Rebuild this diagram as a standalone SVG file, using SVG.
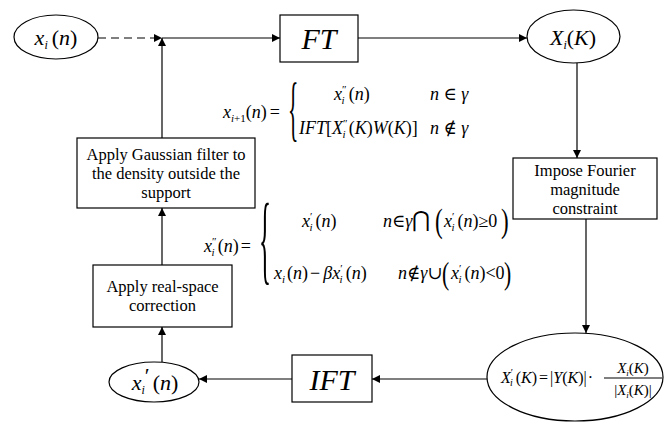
<svg xmlns="http://www.w3.org/2000/svg" width="665" height="423" viewBox="0 0 665 423">
<style>
text{font-family:'Liberation Serif','Times New Roman','DejaVu Serif',serif;fill:#000}
.i{font-style:italic}
.box{fill:#fff;stroke:#000;stroke-width:1.2}
.ln{fill:none;stroke:#000;stroke-width:1.2}
.lbl{font-size:16.5px;text-anchor:middle}
</style>
<defs>
<marker id="a" viewBox="0 0 10 10" refX="10" refY="5" markerWidth="9" markerHeight="8" orient="auto" markerUnits="userSpaceOnUse"><path d="M0,0 L10,5 L0,10 z" fill="#000"/></marker>
</defs>
<rect width="665" height="423" fill="#fff"/>
<g id="connectors">
<path class="ln" d="M98,38 H162" stroke-dasharray="8 5" marker-end="url(#a)"/>
<path class="ln" d="M162,138 V38" marker-end="url(#a)"/>
<path class="ln" d="M162,38 H280" marker-end="url(#a)"/>
<path class="ln" d="M358,38 H527" marker-end="url(#a)"/>
<path class="ln" d="M577,63 V158" marker-end="url(#a)"/>
<path class="ln" d="M586,219 V333" marker-end="url(#a)"/>
<path class="ln" d="M487,379 H372" marker-end="url(#a)"/>
<path class="ln" d="M292,379 H199" marker-end="url(#a)"/>
<path class="ln" d="M162,362 V327" marker-end="url(#a)"/>
<path class="ln" d="M162,265 V208" marker-end="url(#a)"/>
</g>
<g id="xin">
<ellipse class="box" cx="56" cy="37" rx="42" ry="22"/>
<text x="56" y="45" font-size="22" text-anchor="middle"><tspan class="i">x</tspan><tspan class="i" font-size="12" dy="4">i</tspan><tspan dy="-4" dx="4">(</tspan><tspan class="i">n</tspan>)</text>
</g>
<g id="ft">
<rect class="box" x="280" y="15" width="78" height="47"/>
<text class="i" x="319" y="49" font-size="30" text-anchor="middle">FT</text>
</g>
<g id="xik">
<ellipse class="box" cx="573.5" cy="36.5" rx="46.5" ry="26.5"/>
<text x="573" y="45" font-size="22" text-anchor="middle"><tspan class="i">X</tspan><tspan class="i" font-size="12" dy="4">i</tspan><tspan dy="-4">(</tspan><tspan class="i">K</tspan>)</text>
</g>
<g id="impose">
<rect class="box" x="513" y="158" width="144" height="61"/>
<text class="lbl" x="585" y="176">Impose Fourier</text>
<text class="lbl" x="585" y="195">magnitude</text>
<text class="lbl" x="585" y="214">constraint</text>
</g>
<g id="xpk">
<ellipse class="box" cx="575" cy="377" rx="88" ry="44"/>
<text x="501" y="383" font-size="16"><tspan class="i">X</tspan><tspan font-size="10" dy="-7">′</tspan><tspan class="i" font-size="10" dx="-3" dy="10">i</tspan><tspan dy="-3" dx="3">(</tspan><tspan class="i">K</tspan>)<tspan dx="2">=</tspan><tspan dx="2">|</tspan><tspan class="i">Y</tspan>(<tspan class="i">K</tspan>)|<tspan dx="1">·</tspan></text>
<text x="633" y="373" font-size="15" text-anchor="middle"><tspan class="i">X</tspan><tspan class="i" font-size="9" dy="3">i</tspan><tspan dy="-3">(</tspan><tspan class="i">K</tspan>)</text>
<path class="ln" d="M604,378 H662" stroke-width="1"/>
<text x="633" y="395" font-size="15" text-anchor="middle">|<tspan class="i">X</tspan><tspan class="i" font-size="9" dy="3">i</tspan><tspan dy="-3">(</tspan><tspan class="i">K</tspan>)|</text>
</g>
<g id="ift">
<rect class="box" x="292" y="355" width="80" height="47"/>
<text class="i" x="332" y="390" font-size="30" text-anchor="middle">IFT</text>
</g>
<g id="xpn">
<ellipse class="box" cx="154" cy="382" rx="45" ry="20"/>
<text x="155" y="390" font-size="22" text-anchor="middle"><tspan class="i">x</tspan><tspan class="i" font-size="12" dy="4">i</tspan><tspan dy="-11">′</tspan><tspan dy="7" dx="3">(</tspan><tspan class="i">n</tspan>)</text>
</g>
<g id="realspace">
<rect class="box" x="93" y="265" width="139" height="62"/>
<text class="lbl" x="162.5" y="292">Apply real-space</text>
<text class="lbl" x="162.5" y="311">correction</text>
</g>
<g id="gaussian">
<rect class="box" x="77" y="138" width="178" height="70"/>
<text class="lbl" x="166" y="160">Apply Gaussian filter to</text>
<text class="lbl" x="166" y="179">the density outside the</text>
<text class="lbl" x="166" y="198">support</text>
</g>
<g id="formula1">
<text x="223" y="118" font-size="18"><tspan class="i">x</tspan><tspan font-size="11" dy="4"><tspan class="i">i</tspan>+1</tspan><tspan dy="-4">(</tspan><tspan class="i">n</tspan>)<tspan dx="3">=</tspan></text>
<text transform="translate(288,132) scale(0.3,1)" font-size="72">{</text>
<text x="334" y="100" font-size="18"><tspan class="i">x</tspan><tspan font-size="11" dy="-7">″</tspan><tspan class="i" font-size="11" dx="-5" dy="11">i</tspan><tspan dy="-4" dx="4">(</tspan><tspan class="i">n</tspan>)</text>
<text x="299" y="134" font-size="18"><tspan class="i">IFT</tspan>[<tspan class="i">X</tspan><tspan font-size="11" dy="-7">″</tspan><tspan class="i" font-size="11" dx="-5" dy="11">i</tspan><tspan dy="-4" dx="3">(</tspan><tspan class="i">K</tspan>)<tspan class="i">W</tspan>(<tspan class="i">K</tspan>)]</text>
<text x="430" y="100" font-size="18"><tspan class="i">n</tspan> ∈ <tspan class="i">γ</tspan></text>
<text x="430" y="134" font-size="18"><tspan class="i">n</tspan> ∉ <tspan class="i">γ</tspan></text>
</g>
<g id="formula2">
<text x="204" y="252" font-size="18"><tspan class="i">x</tspan><tspan font-size="11" dy="-7">″</tspan><tspan class="i" font-size="11" dx="-5" dy="11">i</tspan><tspan dy="-4" dx="3">(</tspan><tspan class="i">n</tspan>)<tspan dx="2">=</tspan></text>
<text transform="translate(259,272) scale(0.25,1)" font-size="100">{</text>
<text x="302" y="227" font-size="18"><tspan class="i">x</tspan><tspan font-size="11" dy="-7">′</tspan><tspan class="i" font-size="11" dx="-3" dy="11">i</tspan><tspan dy="-4" dx="3">(</tspan><tspan class="i">n</tspan>)</text>
<text x="383" y="227" font-size="18"><tspan class="i">n</tspan>∈<tspan class="i">γ</tspan><tspan font-size="22">⋂</tspan></text>
<text transform="translate(435,232) scale(0.7,1)" font-size="33">(</text>
<text x="444" y="227" font-size="18"><tspan class="i">x</tspan><tspan font-size="11" dy="-7">′</tspan><tspan class="i" font-size="11" dx="-3" dy="11">i</tspan><tspan dy="-4" dx="3">(</tspan><tspan class="i">n</tspan>)≥0</text>
<text transform="translate(501,232) scale(0.7,1)" font-size="33">)</text>
<text x="274" y="279" font-size="18"><tspan class="i">x</tspan><tspan class="i" font-size="11" dy="4">i</tspan><tspan dy="-4" dx="2">(</tspan><tspan class="i">n</tspan>)<tspan dx="2">−</tspan><tspan class="i" dx="3">βx</tspan><tspan font-size="11" dy="-7">′</tspan><tspan class="i" font-size="11" dx="-3" dy="11">i</tspan><tspan dy="-4" dx="3">(</tspan><tspan class="i">n</tspan>)</text>
<text x="398" y="279" font-size="18"><tspan class="i">n</tspan>∉<tspan class="i">γ</tspan>∪</text>
<text transform="translate(442,284) scale(0.7,1)" font-size="31">(</text>
<text x="451" y="279" font-size="18"><tspan class="i">x</tspan><tspan font-size="11" dy="-7">′</tspan><tspan class="i" font-size="11" dx="-3" dy="11">i</tspan><tspan dy="-4" dx="3">(</tspan><tspan class="i">n</tspan>)&lt;0</text>
<text transform="translate(504,284) scale(0.7,1)" font-size="31">)</text>
</g>
</svg>
